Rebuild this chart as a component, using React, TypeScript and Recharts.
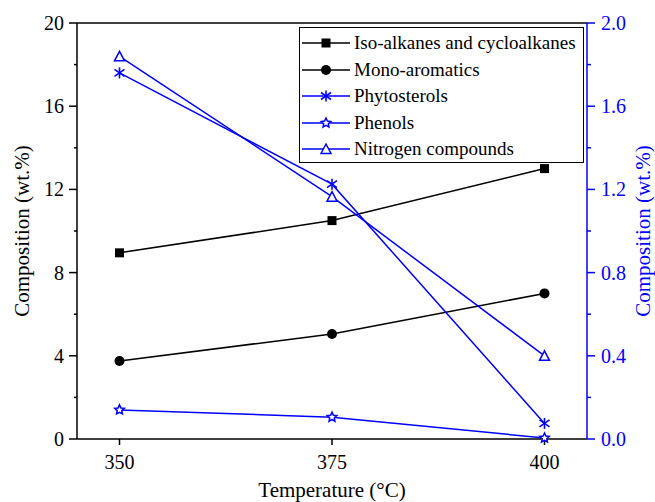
import { LineChart, Line, XAxis, YAxis, Legend, ReferenceLine } from "recharts";

const temperatures = [350, 375, 400];
const isoAlkanes = [8.95, 10.5, 13.0];
const monoAromatics = [3.75, 5.05, 7.0];
const phytosterols = [1.76, 1.225, 0.075];
const phenols = [0.14, 0.105, 0.005];
const nitrogenCompounds = [1.84, 1.165, 0.4];

const xTicks = [350, 375, 400];
const leftTicks = [0, 2, 4, 6, 8, 10, 12, 14, 16, 18, 20];
const rightTicks = [0, 0.2, 0.4, 0.6, 0.8, 1.0, 1.2, 1.4, 1.6, 1.8, 2.0];

const FONT = '"Liberation Serif", "Times New Roman", serif';
const BLUE = "#0000ff";
const TICK_SIZE = 8;
const LEFT_GAP = 5;
const RIGHT_GAP = 6;

const data = temperatures.map((t, i) => ({
  temp: t,
  iso: isoAlkanes[i],
  mono: monoAromatics[i],
  phyto: phytosterols[i],
  phenol: phenols[i],
  nitrogen: nitrogenCompounds[i],
}));

type Shape = "square" | "circle" | "asterisk" | "star" | "triangle";

function marker(shape: Shape, cx: number, cy: number, key?: string) {
  switch (shape) {
    case "square":
      return <rect key={key} x={cx - 4.5} y={cy - 4.5} width={9} height={9} fill="#000" />;
    case "circle":
      return <circle key={key} cx={cx} cy={cy} r={5} fill="#000" />;
    case "asterisk":
      return (
        <g key={key} stroke={BLUE} strokeWidth={1.6}>
          <line x1={cx} y1={cy - 5.5} x2={cx} y2={cy + 5.5} />
          <line x1={cx - 5} y1={cy - 3.5} x2={cx + 5} y2={cy + 3.5} />
          <line x1={cx - 5} y1={cy + 3.5} x2={cx + 5} y2={cy - 3.5} />
        </g>
      );
    case "star": {
      const pts: string[] = [];
      for (let k = 0; k < 10; k++) {
        const r = k % 2 === 0 ? 5 : 2.4;
        const a = -Math.PI / 2 + (k * Math.PI) / 5;
        pts.push(`${cx + r * Math.cos(a)},${cy + r * Math.sin(a)}`);
      }
      return <polygon key={key} points={pts.join(" ")} fill="#fff" stroke={BLUE} strokeWidth={1.5} />;
    }
    case "triangle":
      return (
        <polygon
          key={key}
          points={`${cx},${cy - 5} ${cx + 5},${cy + 4.5} ${cx - 5},${cy + 4.5}`}
          fill="#fff"
          stroke={BLUE}
          strokeWidth={1.5}
        />
      );
  }
}

const dotOf = (shape: Shape) => (p: any) => marker(shape, p.cx, p.cy, `${shape}-${p.index}`);

const series: { key: string; name: string; axis: string; color: string; shape: Shape }[] = [
  { key: "iso", name: "Iso-alkanes and cycloalkanes", axis: "left", color: "#000", shape: "square" },
  { key: "mono", name: "Mono-aromatics", axis: "left", color: "#000", shape: "circle" },
  { key: "phyto", name: "Phytosterols", axis: "right", color: BLUE, shape: "asterisk" },
  { key: "phenol", name: "Phenols", axis: "right", color: BLUE, shape: "star" },
  { key: "nitrogen", name: "Nitrogen compounds", axis: "right", color: BLUE, shape: "triangle" },
];

const textStyle = { fontFamily: FONT };

function LeftTick(props: any) {
  const { x, y, payload } = props;
  const axisX = x + TICK_SIZE + LEFT_GAP;
  const major = payload.value % 4 === 0;
  return (
    <g>
      <line x1={axisX} x2={axisX - (major ? TICK_SIZE : 3)} y1={y} y2={y} stroke="#000" strokeWidth={1.5} />
      {major && (
        <text x={x} y={y} textAnchor="end" dominantBaseline="central" fontSize={20} style={textStyle} fill="#000">
          {payload.value}
        </text>
      )}
    </g>
  );
}

function RightTick(props: any) {
  const { x, y, payload } = props;
  const axisX = x - TICK_SIZE - RIGHT_GAP;
  const major = Math.round(payload.value * 10) % 4 === 0;
  return (
    <g>
      <line x1={axisX} x2={axisX + (major ? TICK_SIZE : 4)} y1={y} y2={y} stroke={BLUE} strokeWidth={1.5} />
      {major && (
        <text x={x} y={y} textAnchor="start" dominantBaseline="central" fontSize={20} style={textStyle} fill={BLUE}>
          {payload.value.toFixed(1)}
        </text>
      )}
    </g>
  );
}

function BottomTick(props: any) {
  const { x, y, payload } = props;
  return (
    <text x={x} y={y} dy={15} textAnchor="middle" fontSize={20} style={textStyle} fill="#000">
      {payload.value}
    </text>
  );
}

function renderLegend() {
  return (
    <div
      style={{
        boxSizing: "border-box",
        width: 285,
        height: 136,
        border: "1.5px solid #000",
        background: "#fff",
        padding: "2px 0 0 2px",
        fontFamily: FONT,
        fontSize: 19,
      }}
    >
      {series.map((s) => (
        <div key={s.key} style={{ display: "flex", alignItems: "center", height: 26.5 }}>
          <svg width={50} height={26} style={{ flex: "none" }}>
            <line x1={0} x2={48} y1={13} y2={13} stroke={s.color} strokeWidth={1.5} />
            {marker(s.shape, 24, 13)}
          </svg>
          <span style={{ marginLeft: 2, whiteSpace: "nowrap", lineHeight: "26px" }}>{s.name}</span>
        </div>
      ))}
    </div>
  );
}

export default function App() {
  return (
    <div
      style={{ position: "absolute", left: 0, top: 0, width: 655, height: 502, background: "#fff", fontFamily: FONT }}
    >
      <LineChart
        width={655}
        height={502}
        data={data}
        margin={{ top: 23, right: 0, bottom: 0, left: 0 }}
        style={{ fontFamily: FONT }}
      >
        <XAxis
          dataKey="temp"
          type="number"
          domain={[345, 405]}
          ticks={xTicks}
          interval={0}
          tickSize={6}
          tickMargin={9}
          height={63}
          axisLine={{ stroke: "#000", strokeWidth: 1.5 }}
          tickLine={{ stroke: "#000", strokeWidth: 1.5 }}
          tick={<BottomTick />}
          label={(p: any) => {
            const vb = p.viewBox;
            return (
              <text
                x={vb.x + vb.width / 2}
                y={vb.y + 51}
                textAnchor="middle"
                dominantBaseline="central"
                fontSize={21}
                style={textStyle}
                fill="#000"
              >
                Temperature (°C)
              </text>
            );
          }}
        />
        <YAxis
          yAxisId="left"
          orientation="left"
          domain={[0, 20]}
          ticks={leftTicks}
          interval={0}
          width={77}
          tickSize={TICK_SIZE}
          tickMargin={LEFT_GAP}
          tickLine={false}
          axisLine={{ stroke: "#000", strokeWidth: 1.5 }}
          tick={<LeftTick />}
          label={(p: any) => {
            const vb = p.viewBox;
            const cx = vb.x + 22;
            const cy = vb.y + vb.height / 2;
            return (
              <text
                x={cx}
                y={cy}
                transform={`rotate(-90 ${cx} ${cy})`}
                textAnchor="middle"
                dominantBaseline="central"
                fontSize={21}
                style={textStyle}
                fill="#000"
              >
                Composition (wt.%)
              </text>
            );
          }}
        />
        <YAxis
          yAxisId="right"
          orientation="right"
          domain={[0, 2]}
          ticks={rightTicks}
          interval={0}
          width={68}
          tickSize={TICK_SIZE}
          tickMargin={RIGHT_GAP}
          tickLine={false}
          axisLine={{ stroke: BLUE, strokeWidth: 1.5 }}
          tick={<RightTick />}
          label={(p: any) => {
            const vb = p.viewBox;
            const cx = vb.x + 56;
            const cy = vb.y + vb.height / 2;
            return (
              <text
                x={cx}
                y={cy}
                transform={`rotate(-90 ${cx} ${cy})`}
                textAnchor="middle"
                dominantBaseline="central"
                fontSize={21}
                style={textStyle}
                fill={BLUE}
              >
                Composition (wt.%)
              </text>
            );
          }}
        />
        <ReferenceLine yAxisId="left" y={20} stroke="#000" strokeWidth={1.5} />
        {series.map((s) => (
          <Line
            key={s.key}
            yAxisId={s.axis}
            dataKey={s.key}
            name={s.name}
            stroke={s.color}
            strokeWidth={1.5}
            dot={dotOf(s.shape)}
            activeDot={false}
            isAnimationActive={false}
          />
        ))}
        <Legend
          layout="vertical"
          align="center"
          verticalAlign="middle"
          wrapperStyle={{ position: "absolute", left: 299, top: 27, width: 285, height: 136 }}
          content={renderLegend}
        />
      </LineChart>
    </div>
  );
}
